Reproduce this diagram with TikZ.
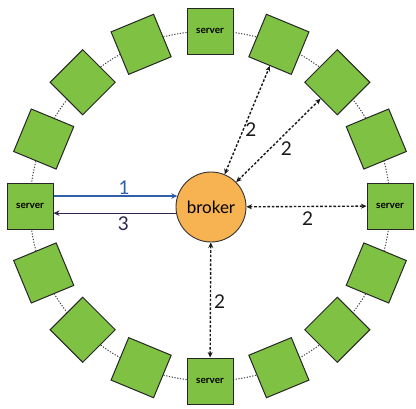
\documentclass[tikz,border=0pt]{standalone}
\usepackage{fontspec}
\setmainfont{Lato}
\usetikzlibrary{arrows.meta}
\definecolor{sqgreen}{HTML}{7EC143}
\definecolor{brokerorange}{HTML}{F7B252}
\definecolor{arrblue}{HTML}{2E5FA8}
\definecolor{arrdark}{HTML}{2D2650}
\tikzset{
  sq/.style={draw=black!85, line width=1pt, fill=sqgreen, minimum width=46pt, minimum height=46pt, inner sep=0pt},
  srv/.style={sq, font=\fontsize{10}{10}\selectfont\bfseries},
  brokernode/.style={circle, draw=black!80, line width=0.9pt, fill=brokerorange, minimum size=70pt, inner sep=0pt, font=\fontsize{17}{17}\selectfont},
  ringline/.style={dash pattern=on 1.2pt off 1.6pt, line width=1pt, black!75},
  dasharrow/.style={line width=1.4pt, dash pattern=on 2.6pt off 1.8pt, black!90, {Stealth[length=5.5pt,width=5pt]}-{Stealth[length=5.5pt,width=5pt]}},
  bluearrow/.style={line width=1.3pt, arrblue, -{Stealth[length=6pt,width=5.5pt]}},
  darkarrow/.style={line width=1.3pt, arrdark, -{Stealth[length=6pt,width=5.5pt]}},
  numlabel/.style={font=\fontsize{19}{19}\selectfont, inner sep=1pt}
}
\begin{document}
\begin{tikzpicture}[x=1pt,y=-1pt]
\useasboundingbox (0,0) rectangle (416,408);
\draw[ringline] (210,206) ellipse [x radius=180pt, y radius=175pt];
\foreach \i in {1,2,3,5,6,7,9,10,11,13,14,15}{
  \pgfmathsetmacro\ang{22.5*\i}
  \node[sq, rotate=-\ang] (s\i) at ({210+180*sin(\ang)}, {206-175*cos(\ang)}) {};
}
\node[srv] (s0) at (210,31) {server};
\node[srv] (s4) at (390,206) {server};
\node[srv] (s8) at (210,381) {server};
\node[srv] (s12) at (30,206) {server};
\node[brokernode] (b) at (211,207) {broker};
\draw[bluearrow] (s12.east |- b.162) -- (b.162)
  node[numlabel, pos=0.57, anchor=south, text=arrblue] (l1) {1};
\draw[darkarrow] (b.190) -- (s12.east |- b.190)
  node[numlabel, pos=0.43, anchor=north, inner sep=3pt, text=arrdark] (l3) {3};
\draw[dasharrow] (b) -- (s1) node[numlabel, pos=0.41, anchor=west, inner sep=1.5pt] (l2a) {2};
\draw[dasharrow] (b) -- (s2) node[numlabel, pos=0.51, anchor=north west, inner sep=1pt] (l2b) {2};
\draw[dasharrow] (b) -- (s4) node[numlabel, pos=0.51, anchor=north, inner sep=5pt] (l2c) {2};
\draw[dasharrow] (b) -- (s8) node[numlabel, pos=0.51, anchor=west, inner sep=3pt] (l2d) {2};
\end{tikzpicture}
\end{document}
